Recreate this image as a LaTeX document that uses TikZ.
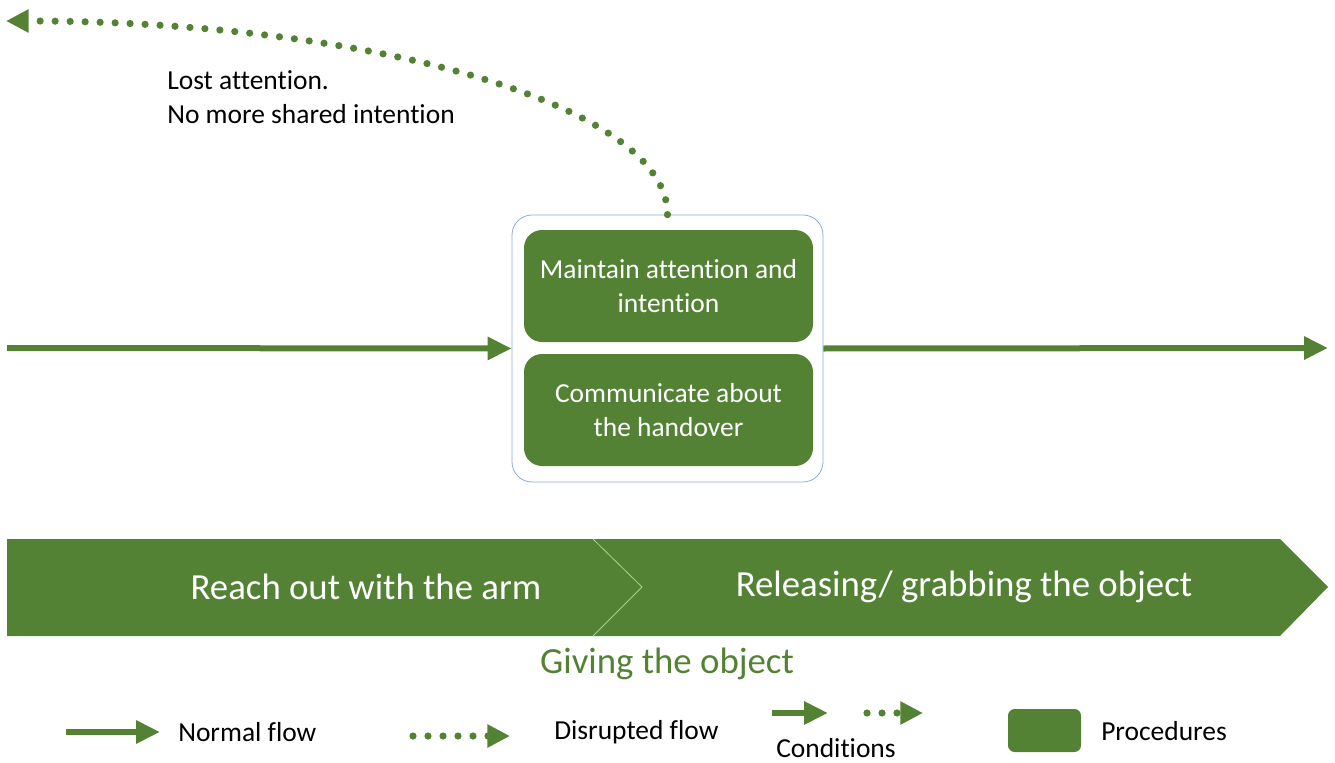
\documentclass[tikz,border=0pt]{standalone}
\usepackage{fontspec}
\setmainfont{Carlito}[Ligatures=NoCommon]
\usetikzlibrary{arrows.meta}

\definecolor{procgreen}{RGB}{84,130,53}
\definecolor{frameblue}{RGB}{143,170,220}
\definecolor{notchgreen}{RGB}{169,209,142}

\newcommand\labsize{\fontsize{20.6}{25.5}\selectfont}
\newcommand\phasesize{\fontsize{27.6}{33}\selectfont}

\begin{document}
\begin{tikzpicture}[x=0.75pt, y=-0.75pt,
  flow/.style={procgreen, line width=4.5pt, -{Triangle[length=18pt,width=16.5pt]}},
  disrupt/.style={procgreen, line width=5.4pt, line cap=round,
    dash pattern=on 0pt off 11.25pt, -{Triangle[length=17pt,width=16.5pt]}},
  proc/.style={fill=procgreen, rounded corners=13.5pt, minimum width=216.75pt,
    minimum height=84pt, text=white, align=center, font=\labsize},
  frame/.style={draw=frameblue, line width=0.6pt, rounded corners=15pt,
    minimum width=233.25pt, minimum height=200.25pt},
  phase/.style={text=white, font=\phasesize},
  lab/.style={font=\labsize, align=left, inner sep=0pt}]

\useasboundingbox (0,0) rectangle (1335,763);

% conditions with the two procedures
\node[frame] (cond) at (667.5,348.5) {};
\node[proc] (attn) at (668.5,286) {Maintain attention and\\intention};
\node[proc] (comm) at (668.5,410) {Communicate about\\the handover};

% normal flow through the conditions
\coordinate (start) at (7,348);
\coordinate (goal) at (1328,348);
\draw[flow] (start) -- (cond.west);
\draw[flow] (cond.east) -- (goal);

% disrupted flow
\coordinate (lost) at (6,21);
\draw[disrupt] (cond.north) .. controls (668,106) and (373,21) .. (lost);
\node[lab, anchor=west] (why) at (167,97) {Lost attention.\\No more shared intention};

% phases
\fill[procgreen] (7,539) -- (593,539) -- (642,587) -- (593,636) -- (7,636) -- cycle;
\fill[procgreen] (593,539) -- (1280,539) -- (1328,587) -- (1280,636) -- (593,636) -- (642,587) -- cycle;
\draw[notchgreen, line width=0.6pt] (593,539) -- (642,587) -- (593,636);

\node[phase] (reach) at (366,587) {Reach out with the arm};
\node[phase] (release) at (964,587) {Releasing/ grabbing the object};
\node[font=\phasesize, text=procgreen] (giving) at (667,664) {Giving the object};

% legend
\coordinate (n1) at (66,732);
\coordinate (n2) at (160,732);
\draw[flow] (n1) -- (n2);
\node[lab, anchor=west] (normal) at (178,732) {Normal flow};

\coordinate (d1) at (413,736);
\coordinate (d2) at (510,736);
\draw[disrupt] (d1) -- (d2);
\node[lab, anchor=west] (disrupted) at (554,732) {Disrupted flow};

\coordinate (c1) at (772,713);
\coordinate (c2) at (828,713);
\coordinate (c3) at (867,713);
\coordinate (c4) at (923,713);
\draw[flow] (c1) -- (c2);
\draw[disrupt] (c3) -- (c4);
\node[lab] (conds) at (836,748) {Conditions};

\node[fill=procgreen, rounded corners=5pt, minimum width=54.75pt,
  minimum height=32.25pt] (procbox) at (1044.5,730.5) {};
\node[lab, anchor=west] (procs) at (1101,731) {Procedures};
\end{tikzpicture}
\end{document}
